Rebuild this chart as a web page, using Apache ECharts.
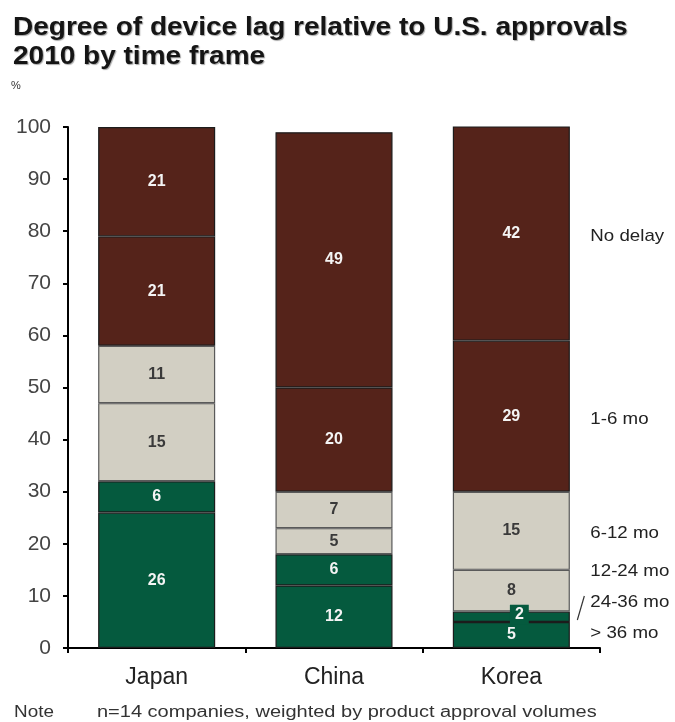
<!DOCTYPE html>
<html>
<head>
<meta charset="utf-8">
<script src="https://cdn.jsdelivr.net/npm/echarts@6/dist/echarts.min.js"></script>
<style>
  html, body { margin: 0; padding: 0; background: #fff; }
  #chart { width: 675px; height: 722px; }
</style>
</head>
<body>
<div id="chart"></div>
<script>
// Countries compared
const countries = ['Japan', 'China', 'Korea'];

// Share of device approvals (%) by lag behind U.S. approval, bottom of stack first
const seriesNames = ['> 36 mo', '24-36 mo', '12-24 mo', '6-12 mo', '1-6 mo', 'No delay'];
const over36 = [26, 12, 5];
const m24to36 = [6, 6, 2];
const m12to24 = [15, 5, 8];
const m6to12 = [11, 7, 15];
const m1to6 = [21, 20, 29];
const noDelay = [21, 49, 42];

// Y-axis ticks
const yTicks = [0, 10, 20, 30, 40, 50, 60, 70, 80, 90, 100];

const values = [over36, m24to36, m12to24, m6to12, m1to6, noDelay];

const GREEN = '#055a3e';
const GREY = '#d2cfc3';
const BROWN = '#55231a';
const colors = [GREEN, GREEN, GREY, GREY, BROWN, BROWN];
const labelColors = ['#f4f4f4', '#f4f4f4', '#3a3a3a', '#3a3a3a', '#f4f4f4', '#f4f4f4'];
const FONT = '"Liberation Sans", Arial, sans-serif';

const chart = echarts.init(document.getElementById('chart'));

const series = values.map((arr, si) => ({
  name: seriesNames[si],
  type: 'bar',
  stack: 'total',
  barWidth: '66%',
  data: arr.map((v, ci) => {
    const item = { value: v };
    // the thin 2-point Korea slice gets a boxed label so the number stays readable
    if (si === 1 && ci === 2) {
      item.label = {
        backgroundColor: GREEN,
        padding: [3, 5, 1, 5],
        offset: [8, -2]
      };
    }
    return item;
  }),
  itemStyle: {
    color: colors[si],
    borderColor: si >= 2 && si <= 3 ? '#5a5a5a' : '#1c1c1c',
    borderWidth: 1.2
  },
  label: {
    show: true,
    position: 'inside',
    color: labelColors[si],
    fontFamily: FONT,
    fontSize: 16,
    fontWeight: 'bold',
    formatter: p => p.value
  },
  emphasis: { disabled: true }
}));

chart.setOption({
  animation: false,
  backgroundColor: '#ffffff',
  grid: { left: 68, right: 75, top: 127, bottom: 74 },
  xAxis: {
    type: 'category',
    data: countries,
    axisLine: { lineStyle: { color: '#000', width: 2 } },
    axisTick: { show: true, length: 5, lineStyle: { color: '#000', width: 2 } },
    axisLabel: { fontFamily: FONT, fontSize: 23, color: '#222', margin: 18 }
  },
  yAxis: {
    type: 'value',
    min: yTicks[0],
    max: yTicks[yTicks.length - 1],
    interval: yTicks[1] - yTicks[0],
    axisLine: { show: true, lineStyle: { color: '#000', width: 2 } },
    axisTick: { show: true, length: 5, lineStyle: { color: '#000', width: 2 } },
    splitLine: { show: false },
    axisLabel: { fontFamily: FONT, fontSize: 21, color: '#444', margin: 17 }
  },
  series: series
});

// Category legend written beside the Korea column, each name next to its slice
const lastIdx = countries.length - 1;
const barRightX = chart.convertToPixel({ xAxisIndex: 0 }, countries[lastIdx]) + 59;
let base = 0;
let prevY = null;
const graphics = [];
const MIN_GAP = 31;
values.forEach((arr, si) => {
  const v = arr[lastIdx];
  const mid = Math.min(base + v / 2, 100 - (100 - base) / 2);
  let y = chart.convertToPixel({ yAxisIndex: 0 }, mid) + (si >= 3 ? 3 : -2);
  if (prevY !== null && prevY - y < MIN_GAP) y = prevY - MIN_GAP;
  prevY = y;
  base += v;
  graphics.push({
    type: 'text',
    x: barRightX + 20,
    y: y,
    scaleX: 1.1,
    style: {
      text: seriesNames[si],
      fontFamily: FONT,
      fontSize: 17,
      fill: '#222',
      textVerticalAlign: 'middle'
    }
  });
  if (si === 1) {
    graphics.push({
      type: 'line',
      shape: { x1: barRightX + 14, y1: y - 6, x2: barRightX + 7, y2: y + 18 },
      style: { stroke: '#333', lineWidth: 1.2 }
    });
  }
});

graphics.push(
  {
    type: 'text', x: 13, y: 14, scaleX: 1.12,
    style: {
      text: 'Degree of device lag relative to U.S. approvals\n2010 by time frame',
      fontFamily: FONT,
      fontSize: 25,
      fontWeight: 'bold',
      lineHeight: 29,
      fill: '#151515',
      textShadowColor: 'rgba(0,0,0,0.35)',
      textShadowBlur: 1,
      textShadowOffsetX: 1,
      textShadowOffsetY: 1
    }
  },
  {
    type: 'text', x: 11, y: 80,
    style: { text: '%', fontFamily: FONT, fontSize: 11, fill: '#333' }
  },
  {
    type: 'text', x: 14, y: 705, scaleX: 1.18,
    style: { text: 'Note', fontFamily: FONT, fontSize: 16, fill: '#333' }
  },
  {
    type: 'text', x: 97, y: 705, scaleX: 1.25,
    style: {
      text: 'n=14 companies, weighted by product approval volumes',
      fontFamily: FONT, fontSize: 16, fill: '#333'
    }
  }
);

chart.setOption({ graphic: graphics });
</script>
</body>
</html>
